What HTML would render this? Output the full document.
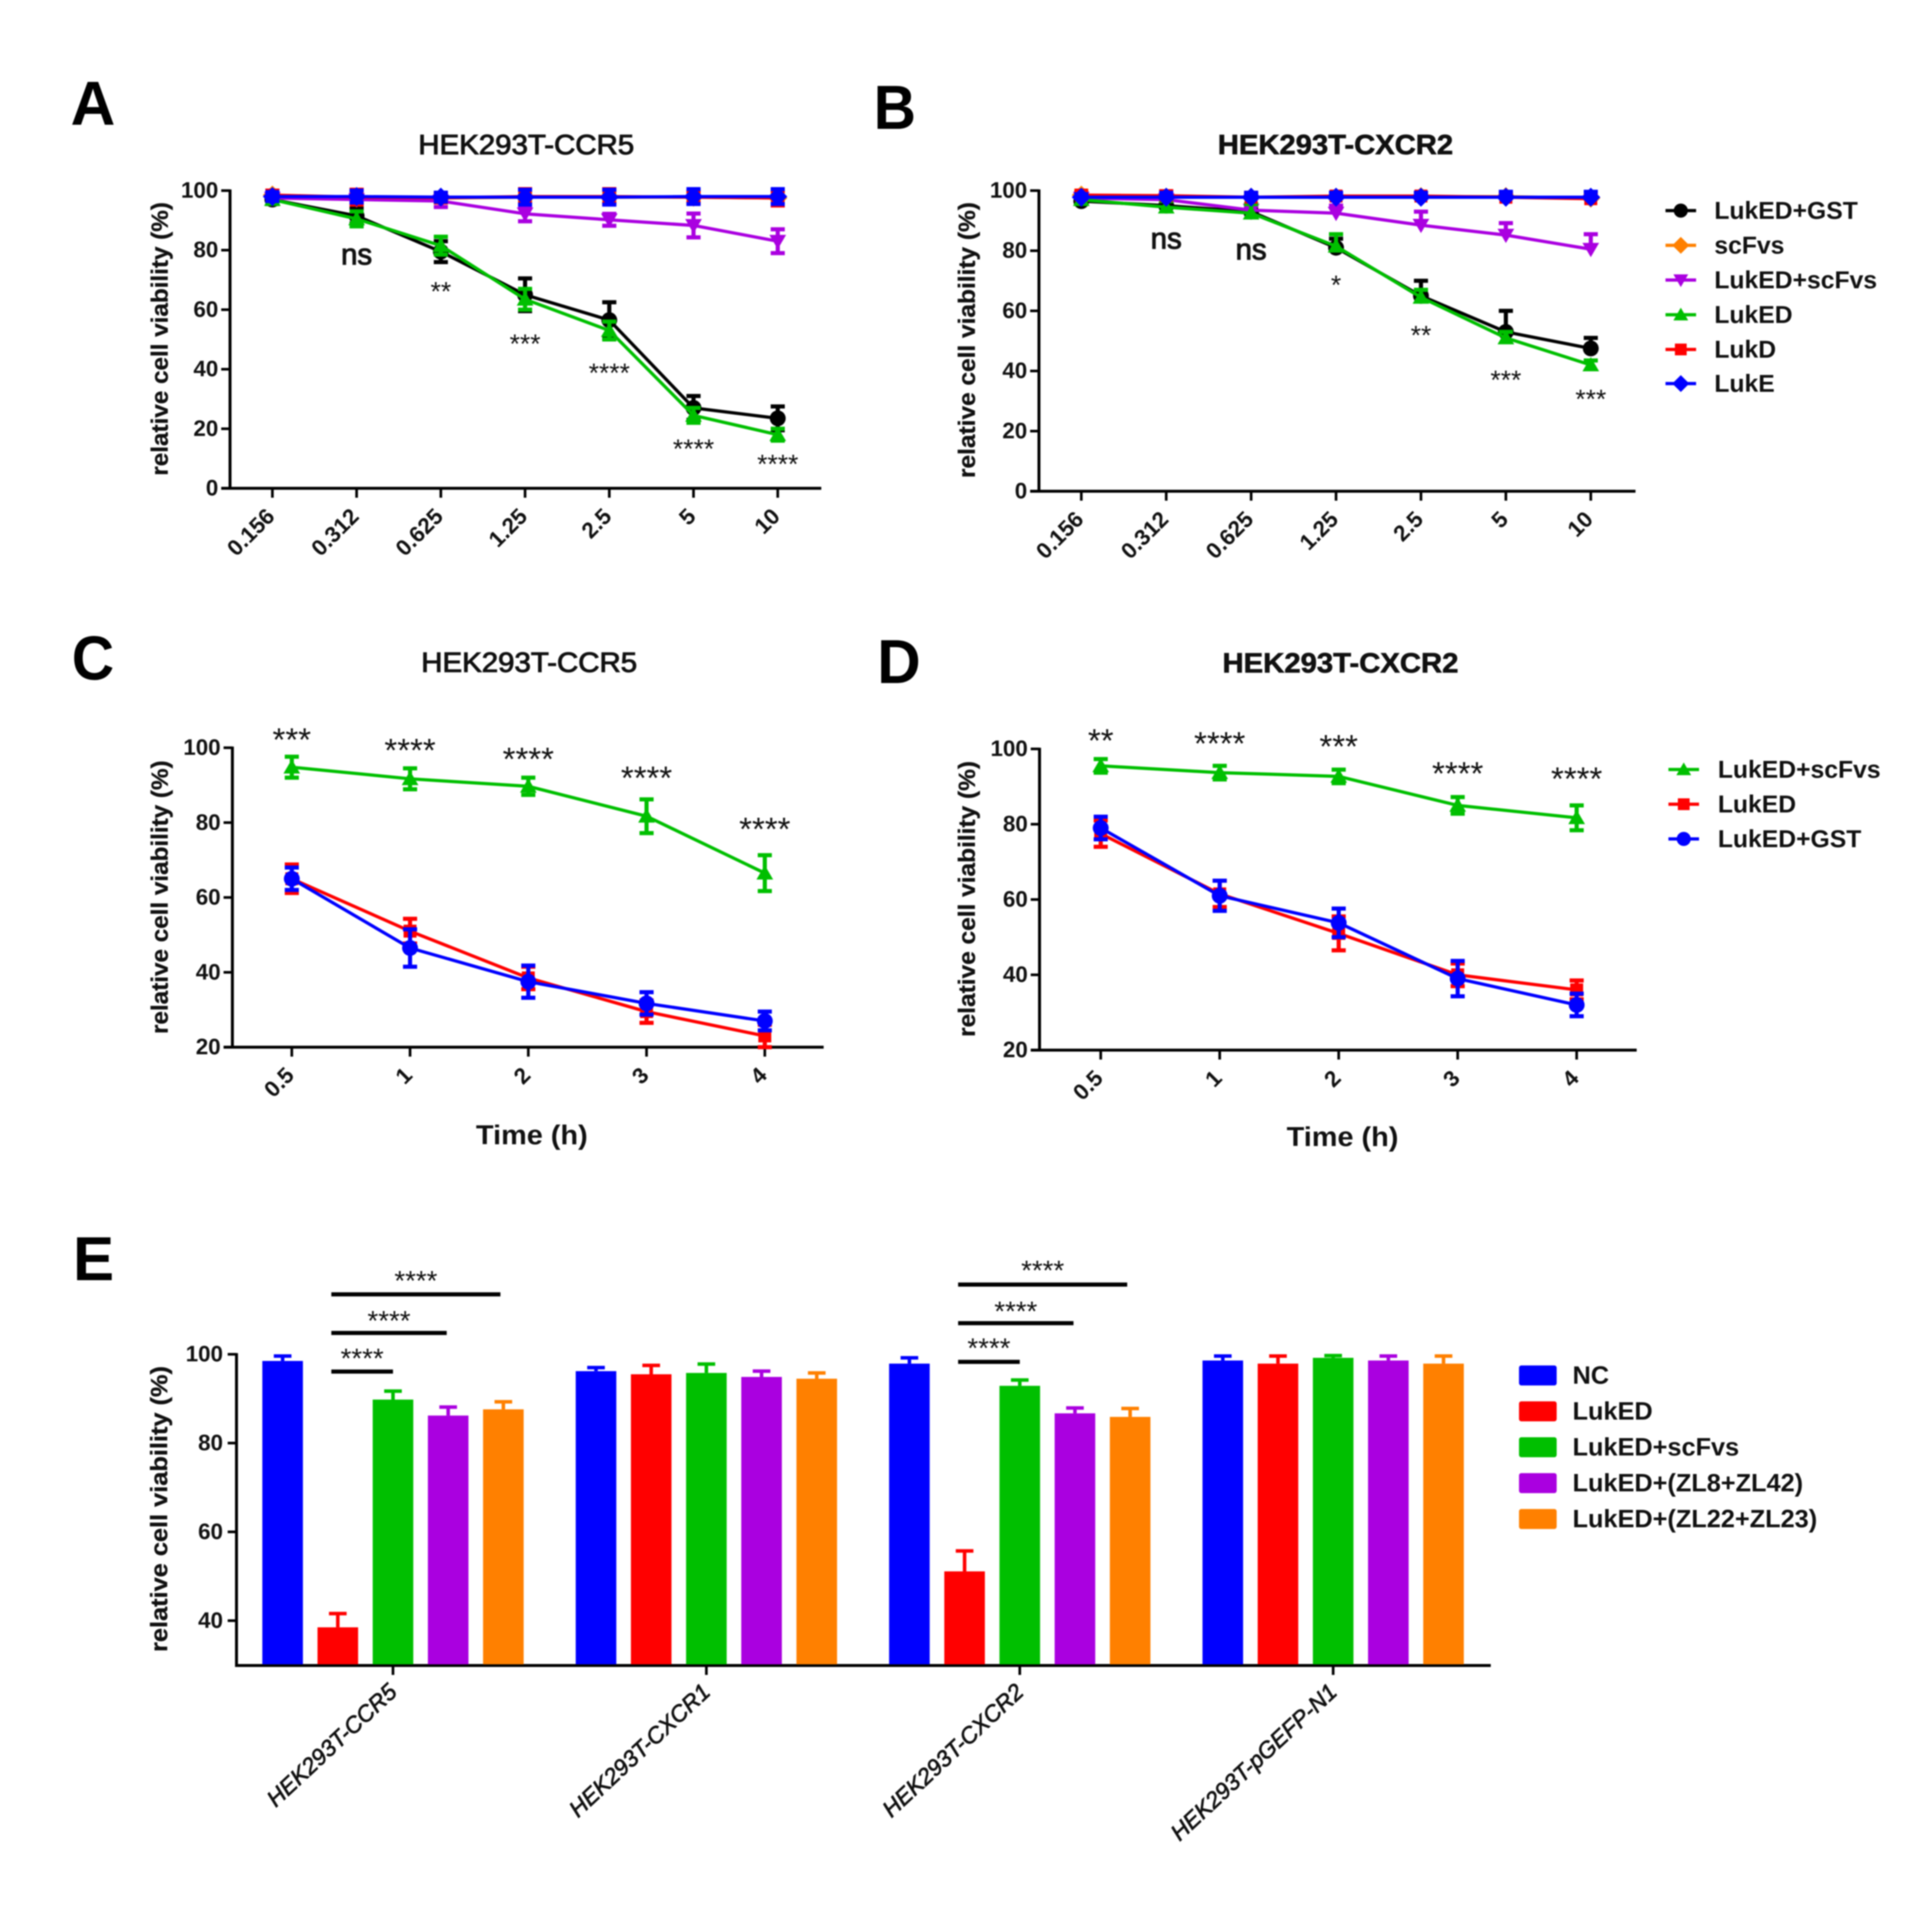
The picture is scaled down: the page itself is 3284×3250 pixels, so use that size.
<!DOCTYPE html>
<html lang="en">
<head>
<meta charset="utf-8">
<title>LukED cell viability panels</title>
<style>
html,body{margin:0;padding:0;background:#fff;}
svg{display:block;filter:blur(1.1px);font-family:"Liberation Sans",Arial,sans-serif;}
.letter{font-weight:700;font-size:106px;fill:#000;}
.title{font-size:47px;fill:#111;stroke:#111;stroke-width:1.5px;}
.titleb{font-size:47px;fill:#111;stroke:#111;stroke-width:1px;font-weight:700;}
</style>
</head>
<body>
<svg id="figure" xmlns="http://www.w3.org/2000/svg" width="3284" height="3250" viewBox="0 0 3284 3250">
<rect x="0" y="0" width="3284" height="3250" fill="#fff"/>
<text class="letter" x="120" y="212" textLength="76" lengthAdjust="spacingAndGlyphs">A</text>
<text class="letter" x="1485" y="219" textLength="72" lengthAdjust="spacingAndGlyphs">B</text>
<text class="letter" x="122" y="1155" textLength="72" lengthAdjust="spacingAndGlyphs">C</text>
<text class="letter" x="1491" y="1161" textLength="74" lengthAdjust="spacingAndGlyphs">D</text>
<text class="letter" x="124" y="2176" textLength="70" lengthAdjust="spacingAndGlyphs">E</text>
<text class="title" x="711" y="262" textLength="367" lengthAdjust="spacingAndGlyphs">HEK293T-CCR5</text>
<text class="titleb" x="2070" y="262" textLength="400" lengthAdjust="spacingAndGlyphs">HEK293T-CXCR2</text>
<text class="title" x="716" y="1142" textLength="367" lengthAdjust="spacingAndGlyphs">HEK293T-CCR5</text>
<text class="titleb" x="2078" y="1143" textLength="401" lengthAdjust="spacingAndGlyphs">HEK293T-CXCR2</text>
<g id="panel-a"></g>
<g id="panel-b"></g>
<g id="panel-c"></g>
<g id="panel-d"></g>
<g id="panel-e"></g>
</svg>
<script>
// ---------- Panel A data ----------
const doseCategories = ['0.156','0.312','0.625','1.25','2.5','5','10'];
const doseTicks = [0,20,40,60,80,100];
const legendDoseNames = ['LukED+GST','scFvs','LukED+scFvs','LukED','LukD','LukE'];
const aGst = [97,91.5,79.5,65,56.5,27,23.5];
const aGstErr = [1.5,2.5,3.5,5.5,6,4,4];
const aScfv = [98.5,97.5,97.5,97.8,97.8,97.8,97.5];
const aScfvErr = [1.5,1.5,1.5,1.5,1.5,1.5,1.5];
const aLukedScfv = [97.5,97,96.5,92.2,90.2,88.3,83];
const aLukedScfvErr = [1,1,2,2.5,2,4,4];
const aLuked = [97,90.5,81.5,63.5,53,24.5,18];
const aLukedErr = [1,2.5,3,3.5,3,2.5,2];
const aLukD = [98.5,97.8,97.6,98,98,97.8,97.5];
const aLukDErr = [1.5,2.5,1.5,2.5,2.5,2,2.5];
const aLukE = [98,98,97.8,97.8,97.8,98,98];
const aLukEErr = [1.5,2,1.5,2.5,2.5,2.5,2.5];
const aSigLabels = ['ns','**','***','****','****','****'];
const aSigIndex = [1,2,3,4,5,6];
const aSigValues = [77.8,67.3,49.7,40,14.5,9.3];
// ---------- Panel B data ----------
const bGst = [96.5,95,93,81,65,53,47.5];
const bGstErr = [1.5,2,2,3,5,7,3.5];
const bScfv = [98.5,97.8,97.8,97.8,98,98,97.5];
const bScfvErr = [1.5,1,1.5,1,1,1,1];
const bLukedScfv = [97.5,97,93.5,92.5,88.5,85.2,80.5];
const bLukedScfvErr = [1,1,1.5,2.5,4.5,4,5];
const bLuked = [97,94.5,92.5,81.5,64.5,51,42];
const bLukedErr = [1,2,3,4,2.5,2,1.5];
const bLukD = [98.5,98.3,97.8,98.2,98.2,97.8,97.3];
const bLukDErr = [1,1.5,1,1,1,1,1];
const bLukE = [97.8,97.8,97.8,97.8,97.8,97.8,97.8];
const bLukEErr = [1,1.5,1.5,1.5,1.5,1.8,1.8];
const bSigLabels = ['ns','ns','*','**','***','***'];
const bSigIndex = [1,2,3,4,5,6];
const bSigValues = [83.3,79.6,69.8,53.1,38.2,31.8];
// ---------- Panels C & D data ----------
const timeCategories = ['0.5','1','2','3','4'];
const timeTicks = [20,40,60,80,100];
const legendTimeNames = ['LukED+scFvs','LukED','LukED+GST'];
const cScfv = [94.8,91.7,89.7,81.7,66.5];
const cScfvErr = [2.8,2.8,2.3,4.5,4.8];
const cLuked = [65,51,38.5,29.5,23];
const cLukedErr = [3.8,3.3,3,3,3];
const cGst = [65,46.5,37.5,31.7,27];
const cGstErr = [3,5,4.3,3,2.5];
const cSigLabels = ['***','****','****','****','****'];
const cSigValues = [103.5,100.7,98.3,93.3,79.6];
const dScfv = [95.5,93.7,92.7,85,81.7];
const dScfvErr = [1.8,1.8,1.8,2.2,3.3];
const dLuked = [77.5,61.5,51,40,36];
const dLukedErr = [3.5,3.5,4.5,3,2.5];
const dGst = [79,61,53.8,39,32];
const dGstErr = [3,4,3.8,4.7,3];
const dSigLabels = ['**','****','***','****','****'];
const dSigValues = [103.6,102.8,102,94.8,93.4];
// ---------- Panel E data ----------
const barCategories = ['HEK293T-CCR5','HEK293T-CXCR1','HEK293T-CXCR2','HEK293T-pGEFP-N1'];
const barTicks = [40,60,80,100];
const barLegendNames = ['NC','LukED','LukED+scFvs','LukED+(ZL8+ZL42)','LukED+(ZL22+ZL23)'];
const barNC = [98.5,96.2,97.9,98.6];
const barNCErr = [1.1,0.8,1.3,1];
const barLukED = [38.5,95.5,51.1,97.9];
const barLukEDErr = [3.1,2,4.6,1.7];
const barScfv = [89.8,95.8,92.9,99.2];
const barScfvErr = [1.9,2,1.3,0.5];
const barZL8 = [86.2,94.9,86.7,98.6];
const barZL8Err = [1.9,1.3,1.2,1];
const barZL22 = [87.6,94.5,85.9,97.9];
const barZL22Err = [1.7,1.3,1.9,1.7];
const sigGroupIndex = [0,0,0,2,2,2];
const sigEndBar = [4,3,2,4,3,2];
const sigLineValues = [113.5,104.8,96.1,115.7,107,98.3];
const sigTextValues = [117.5,108.5,100,119.8,110.6,102.3];
const sigTexts = ['****','****','****','****','****','****'];

// ---------- drawing ----------
const NS = 'http://www.w3.org/2000/svg';
const C = {black:'#000000',orange:'#ff8000',purple:'#aa00e0',green:'#00bf00',red:'#ff0000',blue:'#0000ff'};
function make(tag, attrs, parent){
  const el = document.createElementNS(NS, tag);
  for (const k in attrs) el.setAttribute(k, attrs[k]);
  parent.appendChild(el);
  return el;
}
function markerPath(kind, x, y, r){
  if (kind==='up') return `M${x} ${y-r}L${x+r*1.05} ${y+r*.8}L${x-r*1.05} ${y+r*.8}Z`;
  if (kind==='down') return `M${x} ${y+r}L${x+r*1.05} ${y-r*.8}L${x-r*1.05} ${y-r*.8}Z`;
  if (kind==='square') return `M${x-r} ${y-r}H${x+r}V${y+r}H${x-r}Z`;
  if (kind==='diamond') return `M${x} ${y-r*1.2}L${x+r*1.2} ${y}L${x} ${y+r*1.2}L${x-r*1.2} ${y}Z`;
  return `M${x-r} ${y}A${r} ${r} 0 1 0 ${x+r} ${y}A${r} ${r} 0 1 0 ${x-r} ${y}Z`;
}
function drawAxes(g, L, ticks, yScale){
  const yAxis = make('line',{x1:L.xAxis,x2:L.xAxis,y1:yScale(L.max)-2,y2:L.y0+2.5,stroke:'#000','stroke-width':5},g);
  
  
  const xAxis = make('line',{x1:L.noOriginTick?L.xAxis-2.5:L.xAxis-15,x2:L.xEnd,y1:L.y0,y2:L.y0,stroke:'#000','stroke-width':5},g);
  
  
  ticks.forEach(t=>{
    const y = yScale(t);
    const tk = make('line',{x1:L.xAxis-15,x2:L.xAxis,y1:y,y2:y,stroke:'#000','stroke-width':4.5},g);
    
    
    const lb = make('text',{x:L.xAxis-(L.noOriginTick?23:20),y:y+12,'text-anchor':'end','font-size':38,'font-weight':700,fill:'#111'},g);
    
    
    lb.textContent = t;
  });
  const title = make('text',{transform:`translate(${L.titleX},${L.titleY}) rotate(-90)`,'text-anchor':'middle','font-size':40,'font-weight':700,fill:'#111',stroke:'#111','stroke-width':.5,textLength:L.titleLen,lengthAdjust:'spacingAndGlyphs'},g);
  
  
  title.textContent = 'relative cell viability (%)';
}
function drawLineChart(id, L, cats, ticks, series, sigLabels, sigIndex, sigValues){
  const g = document.getElementById(id);
  const xScale = i => L.x0 + i*(L.x1-L.x0)/(cats.length-1);
  const yScale = v => L.y0 - (v-L.min)*(L.y0-L.yTop)/(L.max-L.min);
  drawAxes(g, L, ticks, yScale);
  cats.forEach((c,i)=>{
    const x = xScale(i);
    const tk = make('line',{x1:x,x2:x,y1:L.y0,y2:L.y0+16,stroke:'#000','stroke-width':4.5},g);
    
    
    const lb = make('text',{transform:`translate(${x+6},${L.y0+50}) rotate(-45)`,'text-anchor':'end','font-size':38,'font-weight':700,fill:'#111'},g);
    
    
    lb.textContent = c;
  });
  series.forEach(s=>{
    const sg = make('g',{},g);
    
    
    s.values.forEach((v,i)=>{
      const x = xScale(i);
      const top = yScale(v+s.errs[i]);
      const bot = L.upOnly ? yScale(v) : yScale(v-s.errs[i]);
      let d = `M${x} ${top}V${bot}M${x-12} ${top}H${x+12}`;
      if (!L.upOnly) d += `M${x-12} ${bot}H${x+12}`;
      const eb = make('path',{d:d,stroke:s.color,'stroke-width':7,fill:'none'},sg);
      
      
    });
    const pts = s.values.map((v,i)=>xScale(i)+','+yScale(v)).join(' ');
    const ln = make('polyline',{points:pts,fill:'none',stroke:s.color,'stroke-width':5.5,'stroke-linejoin':'round'},sg);
    
    
    s.values.forEach((v,i)=>{
      const mk = make('path',{d:markerPath(s.marker,xScale(i),yScale(v),s.marker==='square'?11:13.5),fill:s.color},sg);
      
      
    });
  });
  sigLabels.forEach((t,k)=>{
    const fs = t==='ns' ? 50 : L.starSize;
    const dy = t==='ns' ? 13 : fs*.57-4;
    const x = xScale(sigIndex[k]);
    const lb = make('text',{x:x,y:yScale(sigValues[k])+dy,'text-anchor':'middle','font-size':fs,fill:'#111'},g);
    
    
    if (t==='ns') { lb.setAttribute('stroke','#111'); lb.setAttribute('stroke-width','1.6'); }
    lb.textContent = t;
  });
  if (L.legendYs) {
    series.forEach((s,i)=>{
      const y = L.legendYs[i];
      const lg = make('g',{},g);
      
      
      const sw = make('line',{x1:L.legendX,x2:L.legendX+52,y1:y,y2:y,stroke:s.color,'stroke-width':5.5},lg);
      
      
      const mk = make('path',{d:markerPath(s.marker,L.legendX+26,y,s.marker==='square'?10:12),fill:s.color},lg);
      
      
      const tx = make('text',{x:L.legendTextX,y:y+14,'font-size':42,'font-weight':700,fill:'#111'},lg);
      
      
      tx.textContent = s.name;
    });
  }
  if (L.xLabel) {
    const xl = make('text',{x:L.xLabelX,y:L.xLabelY,'text-anchor':'middle','font-size':46,'font-weight':700,fill:'#111',textLength:190,lengthAdjust:'spacingAndGlyphs'},g);
    
    
    xl.textContent = L.xLabel;
  }
}
drawLineChart('panel-a',
  {x0:463,x1:1322,xAxis:391,xEnd:1396,y0:830,yTop:324,min:0,max:100,titleX:285,titleY:576,titleLen:465,starSize:45},
  doseCategories,doseTicks,[
    {name:legendDoseNames[0],values:aGst,errs:aGstErr,color:C.black,marker:'circle'},
    {name:legendDoseNames[1],values:aScfv,errs:aScfvErr,color:C.orange,marker:'diamond'},
    {name:legendDoseNames[2],values:aLukedScfv,errs:aLukedScfvErr,color:C.purple,marker:'down'},
    {name:legendDoseNames[3],values:aLuked,errs:aLukedErr,color:C.green,marker:'up'},
    {name:legendDoseNames[4],values:aLukD,errs:aLukDErr,color:C.red,marker:'square'},
    {name:legendDoseNames[5],values:aLukE,errs:aLukEErr,color:C.blue,marker:'diamond'}
  ],aSigLabels,aSigIndex,aSigValues);
drawLineChart('panel-b',
  {x0:1838,x1:2704,xAxis:1766,xEnd:2780,y0:835,yTop:324,min:0,max:100,titleX:1657,titleY:578,titleLen:469,starSize:45,upOnly:true,
   legendX:2831,legendTextX:2914,legendYs:[358,417,476,535,594,652]},
  doseCategories,doseTicks,[
    {name:legendDoseNames[0],values:bGst,errs:bGstErr,color:C.black,marker:'circle'},
    {name:legendDoseNames[1],values:bScfv,errs:bScfvErr,color:C.orange,marker:'diamond'},
    {name:legendDoseNames[2],values:bLukedScfv,errs:bLukedScfvErr,color:C.purple,marker:'down'},
    {name:legendDoseNames[3],values:bLuked,errs:bLukedErr,color:C.green,marker:'up'},
    {name:legendDoseNames[4],values:bLukD,errs:bLukDErr,color:C.red,marker:'square'},
    {name:legendDoseNames[5],values:bLukE,errs:bLukEErr,color:C.blue,marker:'diamond'}
  ],bSigLabels,bSigIndex,bSigValues);
drawLineChart('panel-c',
  {x0:496,x1:1300,xAxis:395,xEnd:1400,y0:1780,yTop:1271,min:20,max:100,titleX:285,titleY:1525,titleLen:465,starSize:56,xLabel:'Time (h)',xLabelX:904,xLabelY:1945},
  timeCategories,timeTicks,[
    {name:legendTimeNames[0],values:cScfv,errs:cScfvErr,color:C.green,marker:'up'},
    {name:legendTimeNames[1],values:cLuked,errs:cLukedErr,color:C.red,marker:'square'},
    {name:legendTimeNames[2],values:cGst,errs:cGstErr,color:C.blue,marker:'circle'}
  ],cSigLabels,[0,1,2,3,4],cSigValues);
drawLineChart('panel-d',
  {x0:1871,x1:2680,xAxis:1767,xEnd:2782,y0:1785,yTop:1273,min:20,max:100,titleX:1657,titleY:1528,titleLen:469,starSize:56,xLabel:'Time (h)',xLabelX:2282,xLabelY:1948,
   legendX:2836,legendTextX:2920,legendYs:[1308,1367,1426]},
  timeCategories,timeTicks,[
    {name:legendTimeNames[0],values:dScfv,errs:dScfvErr,color:C.green,marker:'up'},
    {name:legendTimeNames[1],values:dLuked,errs:dLukedErr,color:C.red,marker:'square'},
    {name:legendTimeNames[2],values:dGst,errs:dGstErr,color:C.blue,marker:'circle'}
  ],dSigLabels,[0,1,2,3,4],dSigValues);

(function(){
  const g = document.getElementById('panel-e');
  const L = {xAxis:402,xEnd:2534,y0:2831,yTop:2302,min:29.9,max:100,titleX:284,titleY:2565,titleLen:486,noOriginTick:true};
  const yScale = v => L.y0 - (v-L.min)*(L.y0-L.yTop)/(L.max-L.min);
  const groupX = i => 668 + i*532.7;
  const barX = (i,j) => groupX(i) + (j-2)*93.8;
  const barSeries = [
    {values:barNC,errs:barNCErr,color:'#0000ff'},
    {values:barLukED,errs:barLukEDErr,color:'#ff0000'},
    {values:barScfv,errs:barScfvErr,color:'#00bf00'},
    {values:barZL8,errs:barZL8Err,color:'#aa00e0'},
    {values:barZL22,errs:barZL22Err,color:'#ff8000'}
  ];
  drawAxes(g, L, barTicks, yScale);
  barCategories.forEach((c,i)=>{
    const x = groupX(i);
    const tk = make('line',{x1:x,x2:x,y1:L.y0,y2:L.y0+16,stroke:'#000','stroke-width':4.5},g);
    
    
    const lb = make('text',{transform:`translate(${x+9},${L.y0+48}) rotate(-43)`,'text-anchor':'end','font-size':39,'font-style':'italic',fill:'#111',stroke:'#111','stroke-width':1.1},g);
    
    
    lb.textContent = c;
    barSeries.forEach((s,j)=>{
      const bx = barX(i,j);
      const top = yScale(s.values[i]);
      const et = yScale(s.values[i]+s.errs[i]);
      const eb = make('path',{d:`M${bx} ${top}V${et}M${bx-15} ${et}H${bx+15}`,stroke:s.color,'stroke-width':6,fill:'none'},g);
      
      
      const bar = make('rect',{x:bx-34.5,y:top,width:69,height:L.y0-2-top,fill:s.color},g);
      
      
    });
  });
  sigGroupIndex.forEach((gi,k)=>{
    const endBar = sigEndBar[k];
    const a = barX(gi,1)-11;
    const b = barX(gi,endBar)-(endBar-2)*2.5;
    const y = yScale(sigLineValues[k]);
    const ln = make('line',{x1:a,x2:b,y1:y,y2:y,stroke:'#000','stroke-width':7},g);
    
    
    const tx = make('text',{x:(a+b)/2,y:yScale(sigTextValues[k])+23,'text-anchor':'middle','font-size':47,fill:'#111'},g);
    
    
    tx.textContent = sigTexts[k];
  });
  barLegendNames.forEach((n,i)=>{
    const y = 2338 + i*61;
    const sw = make('rect',{x:2582,y:y-17,width:64,height:34,rx:4,fill:barSeries[i].color},g);
    
    
    const tx = make('text',{x:2673,y:y+14,'font-size':43,'font-weight':700,fill:'#111'},g);
    
    
    tx.textContent = n;
  });
})();
</script>
</body>
</html>
